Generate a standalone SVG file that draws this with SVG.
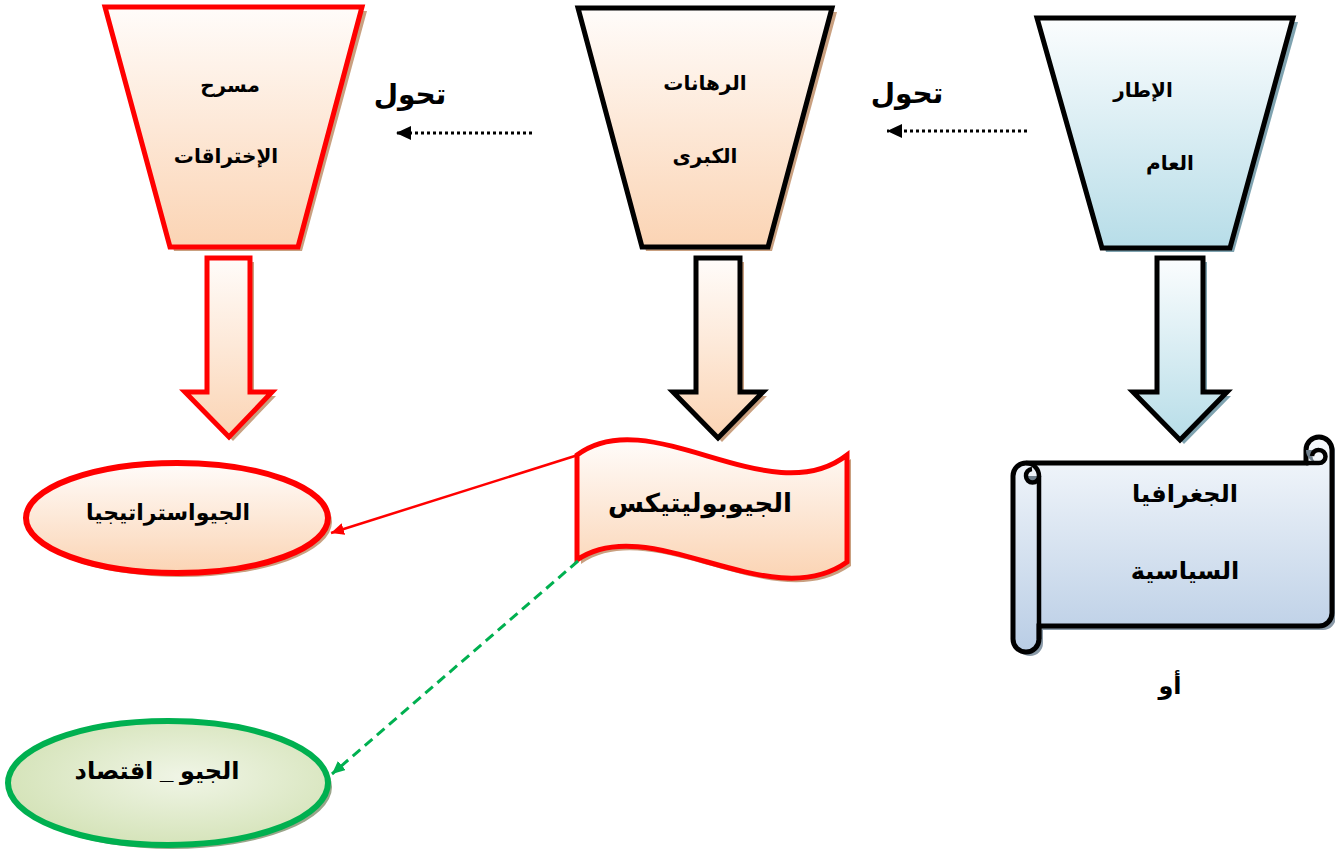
<svg xmlns="http://www.w3.org/2000/svg" width="1335" height="854" viewBox="0 0 1335 854">
<style>
text{font-family:"Liberation Sans","DejaVu Sans",sans-serif;font-weight:bold;fill:#000;text-anchor:middle}
.t20{font-size:20px}
.t22{font-size:22px}
.t24{font-size:24px}
.t26{font-size:26px}
.t28{font-size:28px}
.blk{stroke:#000;stroke-width:5;stroke-linejoin:miter}
.red{stroke:#ff0000;stroke-width:5;stroke-linejoin:miter}
.shB{fill:#7fa3b0}
.shP{fill:#c9a080}
.shG{fill:#9aa58a}
</style>
<defs>
<linearGradient id="gBlue" x1="0" y1="0" x2="0" y2="1"><stop offset="0" stop-color="#fbfdfe"/><stop offset="1" stop-color="#b7dde8"/></linearGradient>
<linearGradient id="gPeach" x1="0" y1="0" x2="0" y2="1"><stop offset="0" stop-color="#fffcfa"/><stop offset="1" stop-color="#fbd4b4"/></linearGradient>
<linearGradient id="gScroll" x1="0" y1="0" x2="0" y2="1"><stop offset="0" stop-color="#f6f9fc"/><stop offset="1" stop-color="#b9cde5"/></linearGradient>
<radialGradient id="gGreen" cx="0.55" cy="0.45" r="0.6"><stop offset="0" stop-color="#f0f5e6"/><stop offset="1" stop-color="#d3e2b6"/></radialGradient>
<marker id="mBlack" markerUnits="userSpaceOnUse" markerWidth="16" markerHeight="14" refX="15" refY="7" orient="auto"><path d="M0,0 L15,7 L0,14 Z" fill="#000"/></marker>
<marker id="mRed" markerUnits="userSpaceOnUse" markerWidth="14" markerHeight="12" refX="13" refY="6" orient="auto"><path d="M0,0 L13,6 L0,12 Z" fill="#ff0000"/></marker>
<marker id="mGreen" markerUnits="userSpaceOnUse" markerWidth="14" markerHeight="12" refX="13" refY="6" orient="auto"><path d="M0,0 L13,6 L0,12 Z" fill="#00b050"/></marker>
</defs>

<g id="node-itar">
<path class="shB" d="M1041,22 L1298,22 L1234,252 L1106,252 Z"/>
<path class="blk" fill="url(#gBlue)" d="M1037,18 L1293,18 L1230,248 L1102,248 Z"/>
<text class="t20" x="1143" y="97">الإطار</text>
<text class="t20" x="1170" y="170">العام</text>
</g>

<g id="node-rihanat">
<path class="shP" d="M582,12 L837,12 L772,251 L646,251 Z"/>
<path class="blk" fill="url(#gPeach)" d="M578,8 L832,8 L768,247 L642,247 Z"/>
<text class="t20" x="705" y="90">الرهانات</text>
<text class="t20" x="705" y="163">الكبرى</text>
</g>

<g id="node-masrah">
<path class="shP" d="M109,11 L367,11 L302,251 L174,251 Z"/>
<path class="red" fill="url(#gPeach)" d="M105,7 L362,7 L298,247 L170,247 Z"/>
<text class="t20" x="230" y="92">مسرح</text>
<text class="t20" x="226" y="163">الإختراقات</text>
</g>

<g id="arrow-right-down">
<path class="shB" d="M1161,262 L1207,262 L1207,396 L1231,396 L1184,444 L1137,396 L1161,396 Z"/>
<path class="blk" fill="url(#gBlue)" d="M1157,258 L1203,258 L1203,392 L1227,392 L1180,440 L1133,392 L1157,392 Z"/>
</g>
<g id="arrow-mid-down">
<path class="shP" d="M700,262 L744,262 L744,396 L767,396 L722,442 L677,396 L700,396 Z"/>
<path class="blk" fill="url(#gPeach)" d="M696,258 L740,258 L740,392 L763,392 L718,438 L673,392 L696,392 Z"/>
</g>
<g id="arrow-left-down">
<path class="shP" d="M211,262 L254,262 L254,396 L276,396 L233,441 L189,396 L211,396 Z"/>
<path class="red" fill="url(#gPeach)" d="M207,258 L250,258 L250,392 L272,392 L229,437 L185,392 L207,392 Z"/>
</g>

<g id="node-scroll">
<path fill="#8a9aa8" d="M1030,468 L1310,468 L1310,454 A13,13 0 0 1 1336,454 L1336,617 A13,13 0 0 1 1323,630 L1043,630 L1043,643 A13,13 0 0 1 1017,643 L1017,480 A13,13 0 0 1 1030,467 Z"/>
<path class="blk" stroke-width="4.5" fill="url(#gScroll)" d="M1026,463 L1306,463 L1306,450 A13,13 0 0 1 1332,450 L1332,613 A13,13 0 0 1 1319,626 L1039,626 L1039,639 A13,13 0 0 1 1013,639 L1013,476 A13,13 0 0 1 1026,463 Z"/>
<path fill="none" stroke="#000" stroke-width="4.5" d="M1039,476 L1039,639"/>
<path fill="#6f7f8c" d="M1026,476 A6.5,6.5 0 0 0 1039,476 Z"/>
<path fill="none" stroke="#000" stroke-width="4.5" d="M1026,463 A13,13 0 0 1 1039,476 A6.5,6.5 0 0 1 1026,476 A6.5,6.5 0 0 1 1032,469"/>
<path fill="#6f7f8c" d="M1319,450 A6.5,6.5 0 0 0 1319,463 A13,13 0 0 1 1306,450 Z"/>
<path fill="none" stroke="#000" stroke-width="4.5" d="M1306,463 L1319,463 A6.5,6.5 0 0 0 1319,450 A6.5,6.5 0 0 0 1312,456"/>
<text class="t24" x="1185" y="502">الجغرافيا</text>
<text class="t24" x="1185" y="579">السياسية</text>
</g>

<g id="label-aw">
<text class="t24" x="1170" y="694">أو</text>
</g>

<g id="node-geopolitics">
<path fill="#c9a080" d="M581,459 C654,404 774,519 851,459 L851,566 C774,621 654,514 581,564 Z"/>
<path class="red" fill="url(#gPeach)" d="M577,455 C650,400 770,515 847,455 L847,562 C770,617 650,510 577,560 Z"/>
<text class="t26" x="700" y="512">الجيوبوليتيكس</text>
</g>

<g id="node-geostrategy">
<ellipse cx="181" cy="522" rx="151" ry="55" fill="#c9a080"/>
<ellipse cx="177" cy="518" rx="151" ry="55" fill="url(#gPeach)" stroke="#ff0000" stroke-width="6"/>
<text class="t22" x="168" y="520">الجيواستراتيجيا</text>
</g>

<g id="node-geoeconomy">
<ellipse cx="172" cy="787" rx="160" ry="62" fill="#9aa58a"/>
<ellipse cx="168" cy="783" rx="160" ry="62" fill="url(#gGreen)" stroke="#00b050" stroke-width="6"/>
<text class="t24" x="157" y="779">الجيو _ اقتصاد</text>
</g>

<g id="label-tahawwul-1">
<text class="t28" x="410" y="104">تحول</text>
</g>
<g id="label-tahawwul-2">
<text class="t28" x="907" y="103">تحول</text>
</g>

<g id="connectors">
<line x1="532" y1="133" x2="396" y2="133" stroke="#000" stroke-width="3" stroke-dasharray="3,3" marker-end="url(#mBlack)"/>
<line x1="1027" y1="131" x2="887" y2="131" stroke="#000" stroke-width="3" stroke-dasharray="3,3" marker-end="url(#mBlack)"/>
<line x1="578" y1="455" x2="331" y2="533" stroke="#ff0000" stroke-width="2.5" marker-end="url(#mRed)"/>
<line x1="578" y1="561" x2="332" y2="774" stroke="#00b050" stroke-width="3" stroke-dasharray="10,6" marker-end="url(#mGreen)"/>
</g>
</svg>
